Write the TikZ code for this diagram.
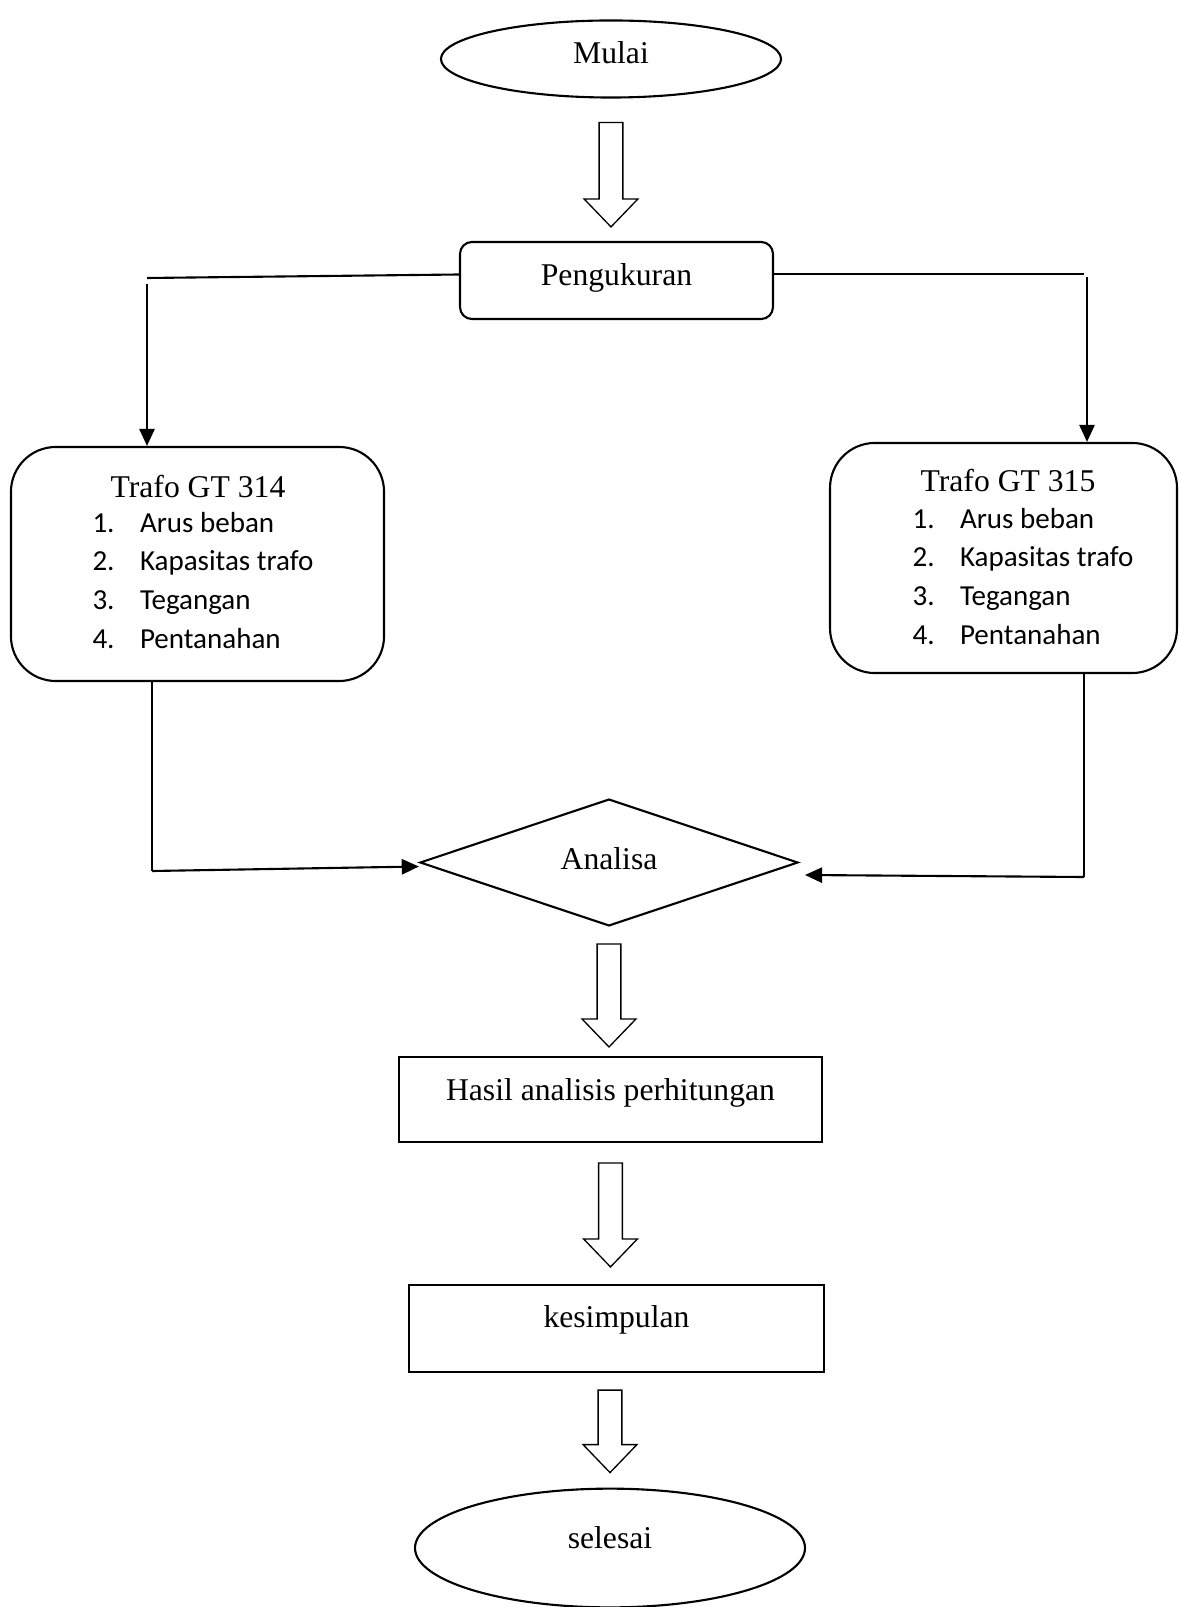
\documentclass[tikz,border=0pt]{standalone}
\usepackage{fontspec}
\setmainfont{Liberation Serif}
\newfontfamily\listfont{Carlito}
\usetikzlibrary{calc,shapes.geometric,arrows.meta}

\begin{document}
\begin{tikzpicture}[x=0.379pt, y=-0.379pt,
    box/.style={draw, line width=0.8pt, font=\fontsize{12}{14}\selectfont,
      inner sep=0pt, text height=7pt},
    roundbox/.style={box, rounded corners=#1},
    titletext/.style={font=\fontsize{12}{14}\selectfont, anchor=base},
    listtext/.style={font=\listfont\fontsize{11}{14.6}\selectfont,
      anchor=base west, align=left, inner sep=0pt},
    link/.style={line width=0.8pt},
    linkarrow/.style={link, -{Triangle[length=6.5pt, width=5.8pt]}},
    hollow/.style={draw, line width=0.5pt, fill=white}]
    \path [use as bounding box]
      (0, 0) rectangle (1178, 1607);

    \newcommand{\itm}[2]{\makebox[18pt][l]{#1}#2}

    \node[box, ellipse, minimum width=128.9pt, minimum height=29.2pt,
      text depth=3.5pt] (mulai) at (611, 59) {Mulai};
    \node[roundbox=4.5pt, minimum width=118.6pt, minimum height=29.2pt,
      text depth=3pt] (peng) at (616.5, 280.5) {Pengukuran};

    \node[roundbox=17pt, minimum width=141.4pt, minimum height=88.7pt]
      (t314) at (197.5, 564) {};
    \node[titletext] (t314title) at (198, 498) {Trafo GT 314};
    \node[listtext] (t314list) at (92, 648) {\itm{1.}{Arus beban}\\
      \itm{2.}{Kapasitas trafo}\\ \itm{3.}{Tegangan}\\
      \itm{4.}{Pentanahan}};

    \node[roundbox=17pt, minimum width=131.5pt, minimum height=87.2pt]
      (t315) at (1003.5, 558) {};
    \node[titletext] (t315title) at (1008, 492) {Trafo GT 315};
    \node[listtext] (t315list) at (912, 644) {\itm{1.}{Arus beban}\\
      \itm{2.}{Kapasitas trafo}\\ \itm{3.}{Tegangan}\\
      \itm{4.}{Pentanahan}};

    \node[box, diamond, minimum width=143.3pt, minimum height=48.1pt,
      aspect=3, text depth=2pt] (analisa) at (609, 862.5) {Analisa};
    \node[box, minimum width=160.3pt, minimum height=32.2pt,
      text depth=6.2pt] (hasil) at (610.5, 1099.5)
      {Hasil analisis perhitungan};
    \node[box, minimum width=157.3pt, minimum height=33pt,
      text depth=7.4pt] (kesimp) at (616.5, 1328.5) {kesimpulan};
    \node[box, ellipse, minimum width=147.8pt, minimum height=45pt,
      text depth=6.5pt] (selesai) at (610, 1548) {selesai};

    \coordinate (pl) at (147, 278);
    \coordinate (pr) at (1084, 274);
    \coordinate (prv) at (1087, 277);
    \coordinate (bl) at (152, 871);
    \coordinate (br) at (1084, 877);
    \coordinate (brend) at (805, 875);

    \draw[link] ($(peng.west)+(0, -6)$) -- (pl);
    \draw[linkarrow] ($(pl)+(0, 6)$) -- (pl |- t314.north);
    \draw[link] (peng.east |- pr) -- (pr);
    \draw[linkarrow] (prv) -- (prv |- t315.north);
    \draw[link] (bl |- t314.south) -- (bl);
    \draw[linkarrow] (bl) -- ($(analisa.west)+(0, 4)$);
    \draw[link] (br |- t315.south) -- (br);
    \draw[linkarrow] (br) -- (brend);

    \foreach \a/\b/\c/\ga/\gb in {mulai/peng/mulai/24/14,
      analisa/hasil/analisa/17/9, hasil/kesimp/hasil/20/17,
      kesimp/selesai/selesai/17/15} {
      \path[hollow] let \p1 = ($(\a.south -| \c.center)+(0, \ga)$),
        \p2 = ($(\b.north)+(0, -\gb)$) in
        (\x1-4.5pt, \y1) -- (\x1-4.5pt, \y2+10.6pt)
        -- (\x1-10.2pt, \y2+10.6pt) -- (\x1, \y2)
        -- (\x1+10.2pt, \y2+10.6pt) -- (\x1+4.5pt, \y2+10.6pt)
        -- (\x1+4.5pt, \y1) -- cycle;
    }
  \end{tikzpicture}
\end{document}
